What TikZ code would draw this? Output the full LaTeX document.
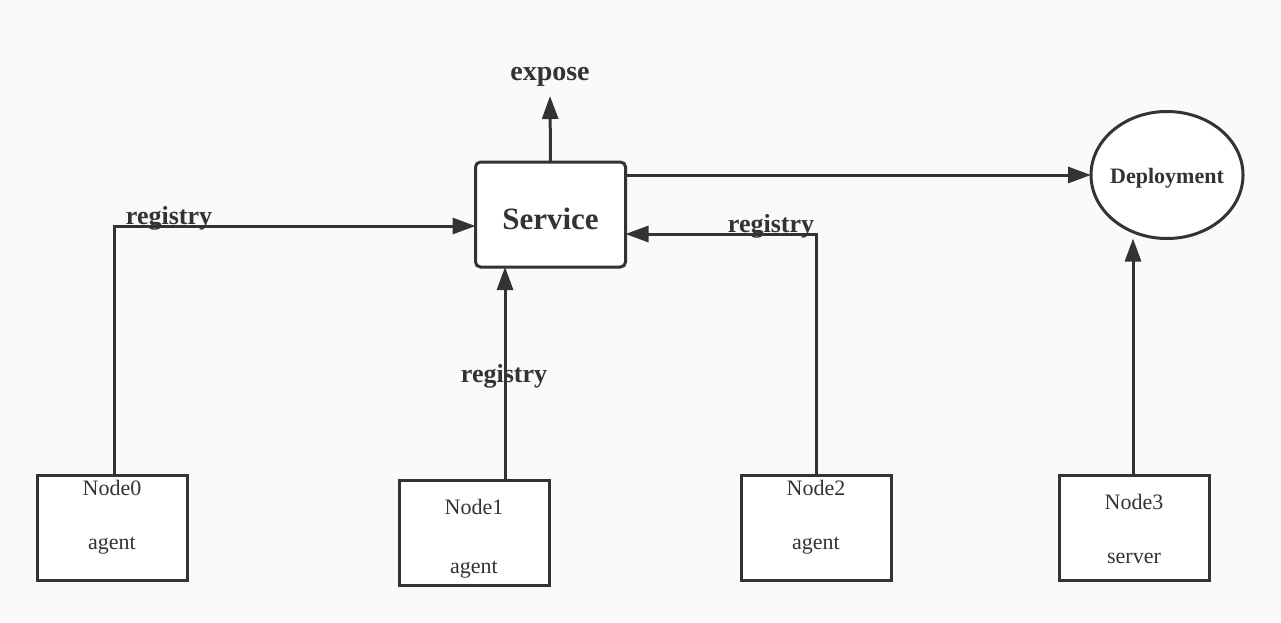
\documentclass[tikz,border=0pt]{standalone}
\usepackage{fontspec}
\setmainfont{Liberation Serif}
\usetikzlibrary{arrows.meta,shapes.geometric}
\definecolor{ink}{HTML}{333333}
\definecolor{paper}{HTML}{FAFAFA}
\tikzset{
  hostbox/.style={draw=ink,line width=3pt,fill=white,minimum width=150pt,minimum height=105pt,inner sep=0pt,outer sep=0pt},
  hosttext/.style={text=ink,anchor=base,inner sep=0pt,font=\fontsize{22}{26}\selectfont},
  flow/.style={draw=ink,line width=3pt,-{Triangle[length=23pt,width=16pt]}},
  tag/.style={text=ink,anchor=base,inner sep=0pt,font=\bfseries\fontsize{26}{30}\selectfont}
}
\begin{document}
\begin{tikzpicture}[x=1pt,y=-1pt]
                \fill[paper] (0,0) rectangle (1281,622);
                \useasboundingbox (0,0) rectangle (1281,622);

                \node[draw=ink,line width=3pt,fill=white,rounded corners=5pt,minimum width=150pt,minimum height=105pt,outer sep=0pt,
                      text height=29pt,text depth=0pt,
                      text=ink,font=\bfseries\fontsize{31}{36}\selectfont] (service) at (550.5,214.5) {Service};
                \node[draw=ink,line width=3pt,fill=white,ellipse,minimum width=152pt,minimum height=127pt,inner xsep=-5pt,inner ysep=0pt,outer sep=0pt,
                      text height=21pt,text depth=5pt,
                      text=ink,font=\bfseries\fontsize{22}{26}\selectfont] (deploy) at (1167,175) {Deployment};
                \node[tag,font=\bfseries\fontsize{28}{32}\selectfont] (expose) at (550,80) {expose};
                \coordinate (exposetip) at (550,96);

                \foreach \n/\x/\y/\ta/\tb/\role in {0/112/527.5/495/549/agent, 1/474/532.5/514/573/agent,
                                                    2/816/527.5/495/549/agent, 3/1134/527.5/509/563/server} {
                  \node[hostbox] (node\n) at (\x,\y) {};
                  \node[hosttext] (node\n name) at (\x,\ta) {Node\n};
                  \node[hosttext] (node\n role) at (\x,\tb) {\role};
                }

                \draw[flow] (service.north) -- (exposetip);
                \draw[flow] (service.east |- 0,175) -- (deploy.west);
                \draw[flow] (node0.north -| 114,0) |- (service.west |- 0,226);
                \draw[flow] (node1.north -| 505,0) -- (service.south -| 505,0);
                \draw[flow] (node2.north) |- (service.east |- 0,234);
                \draw[flow] (node3.north -| 1133,0) -- (deploy.south -| 1133,0);

                \node[tag] (reg0) at (169,224) {registry};
                \node[tag] (reg1) at (504,382) {registry};
                \node[tag] (reg2) at (771,232) {registry};
\end{tikzpicture}
\end{document}
